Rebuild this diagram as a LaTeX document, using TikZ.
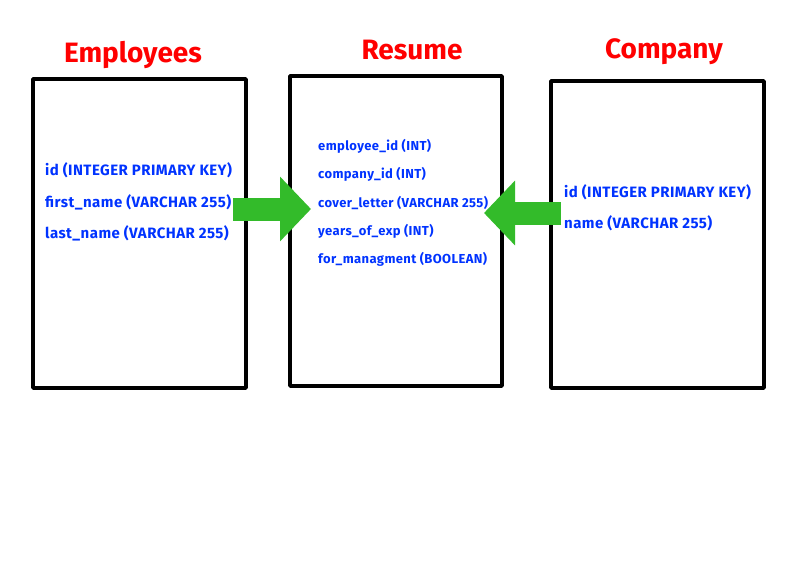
\documentclass[tikz,border=0pt]{standalone}
\usepackage{fontspec}
\setmainfont{Fira Sans}
\newfontfamily\fieldfont[LetterSpace=3]{Fira Sans}
\usetikzlibrary{positioning}
\usetikzlibrary{arrows.meta}

\definecolor{titlered}{RGB}{255,0,0}
\definecolor{fieldblue}{RGB}{0,51,255}
\definecolor{arrowgreen}{RGB}{51,187,42}

\begin{document}
\begin{tikzpicture}[x=1pt, y=-1pt,
	table/.style={line width=3.5pt, draw=black, line join=round},
	title/.style={anchor=base, text=titlered, font=\fontsize{28}{30}\selectfont\bfseries},
	field/.style={anchor=base west, inner sep=0pt, text=fieldblue, font=\fieldfont\fontsize{15}{17}\selectfont\bfseries},
	smallfield/.style={field, font=\fieldfont\fontsize{13}{15}\selectfont\bfseries},
	link/.style={line width=23pt, draw=arrowgreen, -{Triangle[length=31pt, width=63pt]}}
	]

	\useasboundingbox[fill=white] (0,0) rectangle (792,576);

	% tables
	\draw[table] (33,79) rectangle (246,388);
	\draw[table] (290,76) rectangle (502,386);
	\draw[table] (551,81) rectangle (764,388);

	\node[title] (employees) at (133,62) {Employees};
	\node[title] (resume) at (412,59) {Resume};
	\node[title] (company) at (664,58) {Company};

	% employees
	\node[field] (e1) at (45,175) {id (INTEGER PRIMARY KEY)};
	\node[field] (e2) at (45,207) {first\_name (VARCHAR 255)};
	\node[field] (e3) at (45,238) {last\_name (VARCHAR 255)};

	% resume
	\node[smallfield] (r1) at (318,150) {employee\_id (INT)};
	\node[smallfield] (r2) at (318,178) {company\_id (INT)};
	\node[smallfield] (r3) at (318,207) {cover\_letter (VARCHAR 255)};
	\node[smallfield] (r4) at (318,235) {years\_of\_exp (INT)};
	\node[smallfield] (r5) at (318,263) {for\_managment (BOOLEAN)};

	% company
	\node[field] (c1) at (564,197) {id (INTEGER PRIMARY KEY)};
	\node[field] (c2) at (564,228) {name (VARCHAR 255)};

	% arrows
	\coordinate (L1) at (233,209);
	\coordinate (L2) at (311,209);
	\coordinate (R1) at (561,213);
	\coordinate (R2) at (484,213);

	\draw[link] (L1) -- (L2);
	\draw[link] (R1) -- (R2);

\end{tikzpicture}
\end{document}
